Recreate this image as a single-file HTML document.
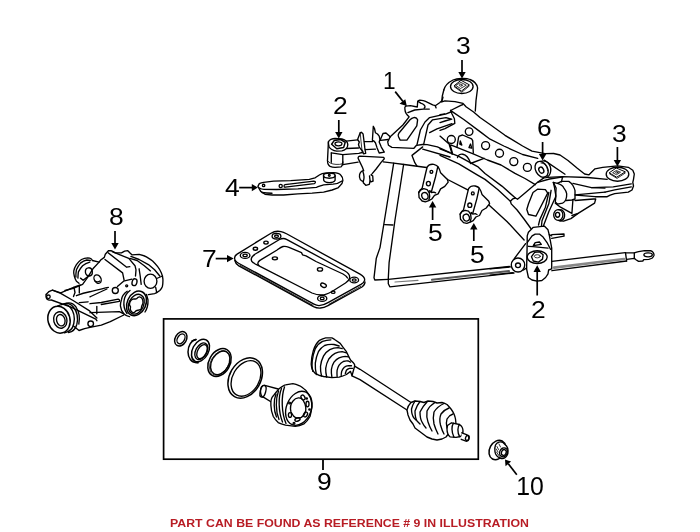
<!DOCTYPE html>
<html><head><meta charset="utf-8"><style>
html,body{margin:0;padding:0;background:#fff;width:700px;height:532px;overflow:hidden}
svg{display:block;will-change:transform}
.n{font-family:"Liberation Sans",sans-serif;font-size:24px;fill:#000}
.r{font-family:"Liberation Sans",sans-serif;font-weight:bold;font-size:11px;fill:#b81c24}
.k{fill:none;stroke:#000;stroke-width:1.35;stroke-linejoin:round;stroke-linecap:round}
.k .t{stroke-width:0.8}
.w{fill:#fff}
</style></head><body>
<svg width="700" height="532" viewBox="0 0 700 532">
<!-- ===== link 4 ===== -->
<g class="k">
<path d="M257.9,186.4 L259.3,183.6 C261,182.8 262,182.6 263.6,182.4 L273.6,181.1 L290.7,180.7 L309.3,179.3 L315,177.9 C317,176.8 318,175.8 319.3,175 C321,174 323,173.2 325,173.1 L333.6,172.6 C337,172.8 339.5,173.6 340.7,175 C342.5,176.8 343,178.5 342.9,180.5 C342.6,183 341.5,184.6 340,185.8 L337.9,187.9 L332.1,190 L323.6,192.1 L312.1,193.1 L297.9,193.9 L283.6,195 L272.1,195 L265,194.3 L260.7,191.4 Z"/>
<path d="M259.5,188 C261,189 262,189.3 264,189.3 L276.4,189.5 L297.9,188.8 L316.4,187.3 C319,186.6 321,185.6 323.6,184.8 L333,184.2 C337,183.8 340,182.5 342,181"/>
<path d="M262,192.5 C265,193 268,193.2 272,193.2"/>
<path d="M285,184.6 L313.8,181.1 C315,181.1 315.5,181.8 315.3,182.5 C315,183.2 314.8,183.5 314.3,183.6 L285.2,187.2 C284.5,187.2 284,186.8 284,186 C284,185.2 284.4,184.7 285,184.6 Z"/>
<circle cx="263.6" cy="185.4" r="1.2"/>
<circle cx="280.7" cy="186" r="1.6"/>
<ellipse cx="329.3" cy="175.6" rx="5.8" ry="2.6"/>
<path d="M323.5,175.6 L323.7,180.2 C324.4,181.9 327,182.6 329.3,182.6 C332,182.6 334.4,181.8 335.1,180.2 L335.1,175.6"/>
<circle cx="329.3" cy="175.3" r="0.9"/>
</g>
<!-- ===== plate 7 ===== -->
<g class="k">
<path d="M234.6,258.5 C234.4,256.5 235.5,255 237.5,253.8 L271,233.2 C274,231.3 277,230.8 281,231.6 C283,232 285,233 287,234 L360,274.2 C363.5,276.3 365,278.5 364.6,280.3 C364.2,282 363,283.2 361,284.4 L328,302.6 C325,304.4 322,305.5 319,305.6 C317,305.6 315.5,305 314,304.2 L239,263.5 C236.5,262.2 234.8,260.5 234.6,258.5 Z"/>
<path d="M234.8,260.5 C235.3,262.8 236.8,264.6 238.8,265.8 L313.5,306.6 C316,307.8 318.5,308.2 320.5,308 C323.5,307.8 325.5,306.9 328,305.6 L362,287 C364,285.6 365,284 365,282"/>
<path class="t" d="M240,265.3 L313,305.3 M329,304.2 L361,286.2"/>
<path d="M253.1,262.6 C251,261 250.8,258.6 252.4,256.5 C253.5,255 256,253.6 258,252.4 L279.5,239.5 C282,238.3 284.3,238.2 286.5,239.3 L345,271 C348.5,273 350,275.5 349.6,278 C349.2,280 347.5,281.8 345.5,283 L332,291.5 C328,293.8 325,295 321.5,295 C318.5,295 315,294.3 312,293 L257.1,264.9 C255.5,264.2 254.2,263.5 253.1,262.6"/>
<path d="M258.9,265.4 C257.8,264.4 257.7,263 258.3,262 C259,261 260,260.2 261.1,259.7 L277.1,250 C279,248.6 281,247 283,246.5 C285,246 287,246.5 289,247.3 L301.5,252.6 L302.5,254.8 L306,255.8 L316,261.5 L343,274 C345.5,275.4 346.8,276.8 347.5,278"/>
<ellipse cx="245.1" cy="255.4" rx="4.8" ry="3"/><ellipse cx="245.1" cy="255.4" rx="2.1" ry="1.3"/>
<ellipse cx="276.5" cy="236.2" rx="4.4" ry="2.8"/><ellipse cx="276.5" cy="236.2" rx="1.9" ry="1.2"/>
<ellipse cx="354.2" cy="280" rx="4.4" ry="2.9"/><ellipse cx="354.2" cy="280" rx="1.9" ry="1.2"/>
<ellipse cx="322.2" cy="298.4" rx="4.6" ry="2.9"/><ellipse cx="322.2" cy="298.4" rx="1.9" ry="1.2"/>
<ellipse cx="255.4" cy="248.7" rx="2.2" ry="1.5"/>
<ellipse cx="266" cy="242.6" rx="2.2" ry="1.5"/>
<ellipse cx="274.9" cy="258.3" rx="2.6" ry="1.5"/>
<ellipse cx="320" cy="269.4" rx="2.6" ry="1.7"/>
<ellipse cx="323.5" cy="285.3" rx="3" ry="1.9" transform="rotate(25 323.5 285.3)"/>
<ellipse cx="333.2" cy="292.2" rx="1.8" ry="1.2"/>
</g>
<!-- ===== differential 8 ===== -->
<g class="k">
<!-- top / rear cover silhouette -->
<path d="M92.4,260.5 L99.1,262.1 L100.7,260 L104.3,257.4 L105.3,254.3 L108.4,250.7 L111,250.7 L112.2,251.2 L115.3,252.8 L121.5,252.8 L124.6,251.2 L127.8,250.7 L130.3,253.3 L131.9,254.8 L139.1,254.3 C142,255 144.5,255.8 146.4,256.9 C149,258.5 151,259.8 152.6,261 C154.5,262.8 156.2,264.8 157.7,266.7 C159.3,268.8 160.5,270.8 161.4,272.9 C162.3,275 162.8,277 162.9,279.1 C163,281.5 162.9,284 162.4,286.4 C161.8,288 161,289.3 159.8,290.5 C158,292 156.5,293 154.6,293.6 L148.4,294.6"/>
<!-- upper-left output flange -->
<path d="M92.4,260.5 L91.4,259 C90,258 89,257.9 87.8,257.9 C85.5,258 83.5,258.5 81.5,259.5 C79.5,260.8 77.8,262.5 76.4,264.6 C75,266.8 74.2,268.8 73.8,270.9 C73.5,272.8 73.8,274.5 74.3,276 C74.8,278 75.5,279.8 76.4,281.2 L79,283.3"/>
<path d="M75.9,277 C75.8,274.5 76,272 76.4,269.8 C77.5,267.3 78.8,265 80.5,263.1 C82.5,261.5 84.5,260.5 86.7,260 L90.3,260.5"/>
<path d="M77.9,278.1 C78,276 78.1,274 78.4,271.9 C79.5,269.5 81,267.5 82.6,265.7 C84.8,263.8 87,262.8 89.8,262.1"/>
<path d="M85.4,272.2 C85.2,269.8 86.6,268 88.5,267.8 C90.5,267.7 92,269.5 92.3,271.6 C92.5,273.8 91.3,275.8 89.3,276 C87.3,276.2 85.6,274.5 85.4,272.2 Z"/>
<path d="M80.5,278.1 L83.1,280.2 L89.8,275"/>
<path d="M99.1,262.1 L92.9,268.8 L87.8,277.1 L82.6,284.3 L73.3,288.4 L65,290.5"/>
<!-- top rib -->
<path d="M108.1,252.8 L126.7,267.2 L129.8,266.7"/>
<path d="M105,259.5 L122.6,272.9 L124.1,280.2"/>
<path d="M112.2,251.7 L128.8,258.4 L135,265.7 L136,269.8 L135.5,276"/>
<!-- rear cover inner -->
<path d="M129.8,258.4 L137.1,260.5 L144.3,265.7 L150.5,270.9"/>
<path d="M130.9,256.4 L139.1,259.5 L148.4,264.6 L154.6,269.8 L159.8,276"/>
<path d="M139.1,268.8 L140.2,276 L141.2,284.3"/>
<path d="M156.7,278.5 L162.5,276"/>
<ellipse cx="150.5" cy="281.2" rx="6.4" ry="7.1"/>
<path d="M155.7,287.4 L156.7,292.6"/>
<ellipse cx="134.5" cy="282.2" rx="2.4" ry="3.5" transform="rotate(15 134.5 282.2)"/>
<circle cx="126.7" cy="285.8" r="1"/>
<circle cx="115.3" cy="290.5" r="3"/>
<path d="M117.4,286.4 L123.6,281.2 L131.9,279.1"/>
<!-- body front -->
<ellipse cx="97.6" cy="279.1" rx="3.3" ry="4.5" transform="rotate(-30 97.6 279.1)"/>
<path d="M95,281 C96.5,282 98.5,282 100,281"/>
<path d="M76.4,295.7 C82,293.5 86,292.5 90.9,291.5 C97,290 103,288.5 108.4,287.4"/>
<path d="M90,296.9 C96,294 101,291.5 106.9,289"/>
<path d="M90,303.7 L101.3,302.5 L118.2,299.2 C119.5,299.5 119.8,300.5 119.3,301.3 L101.3,304.5"/>
<path d="M96.8,306.5 L96.8,313.8"/>
<path d="M90,312.7 L119.3,311.6 L123.8,313.8"/>
<!-- left arm & strap -->
<path d="M46.2,294.3 C45.5,296.5 46.3,299.2 48.3,299.8 C49.5,300.2 50.5,300.1 51.4,300 L71,307.2 L95.8,319.1 L96.9,320.7"/>
<path d="M46.2,294.3 C47.5,292.5 50,290.8 52.4,290.2 L60.7,292.8 L74.1,287.1 L80.3,285"/>
<path d="M52.4,290.2 L60.7,293.3 L73.1,300.5 L89.6,310.9 L96.9,318.1"/>
<circle cx="48.4" cy="296.8" r="1.8"/>
<path d="M74,287.5 L75,292.5 L73.5,296.5 M79.3,286 L79.3,293"/>
<path d="M79.3,302.6 L88,301.8"/>
<!-- input flange -->
<ellipse cx="59" cy="319.7" rx="11" ry="13.6" transform="rotate(-15 59 319.7)" style="stroke-width:1.5"/>
<ellipse cx="60.3" cy="320" rx="6.6" ry="8.3" transform="rotate(-15 60.3 320)"/>
<ellipse cx="60.8" cy="320.2" rx="4.2" ry="5.8" transform="rotate(-15 60.8 320.2)"/>
<path d="M57.6,306.2 C62,303.5 67,303.8 70,307 C73.5,311 75,317.5 73.8,323.5 C72.8,328.5 69,332 64.5,332.8"/>
<path d="M61.7,304.6 C66,302.6 70.5,303.5 73.5,307.2 C77,311.5 78.2,318.5 76.8,324.5 C75.6,329 72.5,331.8 68.5,332.5"/>
<path d="M64.5,303.8 C69,302 73.5,303.5 76,307 C79,311.5 80,318 78.8,324"/>
<path d="M73.5,326 L79,330.5 L84.6,328.6 L90,327.4 L101.3,325.1 L110.3,321.7 L123.8,315"/>
<circle cx="90.7" cy="323.8" r="2.8"/>
<!-- right output flange -->
<path d="M127.2,291.3 C124,293.5 122,296.5 121.6,299.2 C120.8,301.5 120.4,303.5 120.4,305.9 C120.8,309 122,311.8 123.8,313.8 C125.5,315.5 127.3,316.3 129.5,316.6"/>
<path d="M130,290.5 C126.5,293 124.5,297 124,301 C123.5,305 124.5,310 127,313.5"/>
<ellipse cx="136.5" cy="303.4" rx="9.3" ry="12.8" transform="rotate(25 136.5 303.4)" style="stroke-width:1.5"/>
<ellipse cx="136.3" cy="304.2" rx="7.4" ry="10.4" transform="rotate(25 136.3 304.2)"/>
<path d="M129.5,304.8 C129.5,302 131,300 132.8,299.2 C134.5,298.5 135.5,299.5 136.5,298.8 C137.5,297.5 138.5,296.8 139.6,296.9 C141.5,297.3 143,299.5 143,302.5 C143,304.5 141.5,305.5 141.5,307 C141.5,308.2 141.5,309 140.7,309.3 C139,310.5 137.5,310 136,310.8 C135,311.8 134.5,312.7 134,312.7 C131.5,312.7 129.5,309.5 130.5,307.5 C131,306.5 129.5,305.8 129.5,304.8 Z"/>
<path d="M146.5,294.5 L148,300 C148.2,305 147,309 145,312"/>
</g>
<!-- ===== part 9 components ===== -->
<g class="k">
<!-- ring 1 -->
<ellipse cx="180.8" cy="338.8" rx="5.6" ry="7.7" transform="rotate(30 180.8 338.8)" style="stroke-width:1.5"/>
<ellipse cx="181" cy="338.8" rx="3.5" ry="5.3" transform="rotate(30 181 338.8)"/>
<!-- ring 2 seal -->
<path d="M196,339.5 C191,340.5 188,346 188,352 C188,358 191.5,362.5 196,362.5 L198,362.5" style="stroke-width:1.5"/>
<ellipse cx="200.5" cy="350.5" rx="8" ry="12" transform="rotate(28 200.5 350.5)" style="stroke-width:1.5"/>
<ellipse cx="201.3" cy="351.3" rx="5.6" ry="9" transform="rotate(28 201.3 351.3)"/>
<ellipse cx="202" cy="351.6" rx="4.4" ry="7.6" transform="rotate(28 202 351.6)"/>
<path d="M192,341 L196,339.5 M194.5,362.3 L198,362.8"/>
<!-- ring 3 -->
<ellipse cx="219.5" cy="362.5" rx="10.5" ry="14.8" transform="rotate(30 219.5 362.5)" style="stroke-width:1.5"/>
<ellipse cx="220.3" cy="362.8" rx="8.6" ry="12.6" transform="rotate(30 220.3 362.8)"/>
<ellipse cx="219.6" cy="363" rx="8.8" ry="13.3" transform="rotate(30 219.6 363)" style="stroke-width:0.7"/>
<!-- ring 4 -->
<ellipse cx="245.2" cy="378" rx="15.6" ry="21.5" transform="rotate(30 245.2 378)" style="stroke-width:1.5"/>
<ellipse cx="246" cy="378.4" rx="13.3" ry="19" transform="rotate(30 246 378.4)"/>
<!-- CV joint -->
<path class="w" d="M278.2,389 L264.8,385.4 C262,385 260.5,387.5 260.5,390.9 C260.5,394.5 262,397.3 264.2,397.6 L272.1,402.5"/>
<ellipse cx="263" cy="391.3" rx="2.7" ry="6" transform="rotate(15 263 391.3)"/>
<path class="w" d="M270.9,405.5 C270.5,400 272,397 273.3,395.8 C276,392 278,390 279.4,388.4 C282,386.5 284,385 285.5,384.8 L292.9,383.6 C296,384 298,385 300.2,386 C303,388 305,389.5 306.3,390.9 C308,393.5 309.5,396 310.6,398.2 C311.5,401 312,404 311.8,406.8 C311.5,410 311,413 310,416.5 C308,420 306,422.5 303.9,423.9 C301,425.5 298,426.3 295.3,426.3 L285.5,425.1 C282,424.2 280,423.5 278.2,422.6 C276,420.5 274.5,418.5 273.3,416.5 C271.8,413 271,409 270.9,405.5 Z"/>
<path d="M276,394 C273.5,400 273.5,410 276.5,417 M278.5,391 C275.5,399 275.5,411 279,419.5 M281.5,388.5 C278,397 278.5,412 282.5,422 M284.5,387 C281,397 281.5,413 286,423.5"/>
<ellipse cx="298.8" cy="408.3" rx="12.4" ry="17.6" transform="rotate(22 298.8 408.3)"/>
<path d="M293,401 C296,397 301,397 303,400 L305,404 C306,407 306,412 304,415 C301,419 296,419 293.5,416 L291,412 C290,408 290.5,404 293,401 Z"/>
<ellipse cx="303" cy="397.5" rx="1.8" ry="2.6" transform="rotate(-30 303 397.5)"/>
<ellipse cx="307.5" cy="404" rx="1.5" ry="2.8"/>
<ellipse cx="305.5" cy="414.5" rx="1.8" ry="2.6" transform="rotate(30 305.5 414.5)"/>
<ellipse cx="297.5" cy="419.5" rx="2.7" ry="1.6" transform="rotate(-20 297.5 419.5)"/>
<ellipse cx="290" cy="415" rx="1.6" ry="2.4"/>
<circle cx="289.6" cy="403" r="0.9"/>
<circle cx="294" cy="423.3" r="0.9"/>
<circle cx="306.7" cy="398.5" r="0.7"/>
<circle cx="309.5" cy="409.5" r="0.7"/>
<!-- inner boot -->
<path class="w" d="M354.6,366.2 C355,364.5 354.5,363.8 353.6,363.1 L350.5,360 L348.4,355.9 L346.4,351.7 L343.3,347.6 L340.2,343.4 L335,339.8 C333.5,338.5 332.5,338 331.9,337.8 L325.7,337.8 C323.5,338.3 321.5,339.2 319.5,340.3 C316.5,343 314.5,346.5 313.3,350.7 C312,355 311.3,359.5 311.2,364.1 C311.4,366 311.7,367.8 312.2,369.3 C313,371 314,372.3 315.3,373.4 C317.8,375 320.5,376 323.6,376.5 L331.9,377.6 L339.1,377.1 C341.8,376.5 344.2,375.6 346.4,374.5 L350.5,371.4 L352,375.8 L354.6,366.2 Z"/>
<path d="M312.8,371.4 C311.8,368 311.8,364.5 312.2,361 C312.8,356.5 313.8,352.5 315.3,348.6 C317.3,345 319.6,342.8 322.6,341.4 C325.5,340.2 328.3,339.8 330.9,339.8"/>
<path d="M316.4,374.5 C315.5,370.8 315.1,367 315.3,363.1 C315.8,359 316.8,355.2 318.4,351.7 C320.2,348.8 322.2,346.8 324.6,345.5 C327.5,344.4 330.7,344.2 334,344.5 L339.1,346"/>
<path d="M321.5,376 C320.7,372.8 320.4,369.5 320.5,366.2 C320.9,362.6 322,359 323.6,355.9 C325.3,353 327.4,351 329.8,349.6 C332.5,348.3 335.3,347.7 338.1,347.6 L342.2,348.6"/>
<path d="M326.7,377.1 C326,374.2 325.6,371.2 325.7,368.3 C326.1,365 327.2,361.9 328.8,359 C330.5,356.5 332.6,354.6 335,353.3 C337.3,352.3 339.7,351.8 342.2,351.7 L346.4,352.8"/>
<path d="M331.9,377.1 C331.4,374.5 331.2,371.9 331.4,369.3 C331.8,366.7 332.7,364.2 334,362.1 C335.5,360.2 337.2,358.8 339.1,357.9 C341.1,357 343.1,356.5 345.3,356.4 L348.4,356.9"/>
<path d="M337.1,376.5 C336.9,374.4 336.9,372.3 337.1,370.3 C337.5,368.4 338.2,366.7 339.1,365.2 C340.4,363.5 341.8,362.3 343.3,361.5 C345,360.9 346.7,360.8 348.4,361 L350.5,362.1"/>
<path d="M341.2,375.5 C341.2,374.1 341.4,372.7 341.7,371.4 C342.3,369.7 343.2,368.3 344.3,367.2 C345.6,366.2 347,365.8 348.4,365.7 L351.5,365.7"/>
<path d="M345.3,373.4 L346.4,370.3 C347.3,369.2 348.3,368.6 349.5,368.3 L352.6,368.3"/>
<!-- shaft -->
<path d="M354.6,366.2 L360,369.3 L411,402.5 M352,375.8 L360,379.6 L407,410"/>
<!-- outer boot -->
<path class="w" d="M411,402.5 L415,401 L420,401.5 L424,402.5 L428,401 L433,401.5 L437,403 L442,402.5 C444,403 445.5,403.6 447,404.5 C448.5,406 449.8,407.5 451,409 C452.2,410.6 453.2,412.3 454,414 C454.7,415.7 455.2,417.3 455.5,419 L456,424 L446,437 L442,439 L437,440 L432,439 L427,437 L423,434 L419,431 L415,428 L413,424 L410,420 L408,415 L407,410 C407.5,407 409,404.5 411,402.5 Z"/>
<path d="M415,401 C413,404 412,407 411.5,409 C411.5,412.5 412,415.5 414,418 L416,420"/>
<path d="M420,401.5 C417.5,404.5 416,408 415,411 C415,415 415.5,418.5 417,421 L420,424"/>
<path d="M427,402 C424,405 422,408 420,412 C420,416 420.5,419.5 422,422 C423,424 424.5,426.5 426,428"/>
<path d="M435,402.5 C431.5,404.5 429,407 427,411 C426.5,415 426.6,418.5 428,422 C429,425 430.5,428.5 432,431"/>
<path d="M444,403.5 C439.5,405.5 436.5,408 434,412 C433,416 433.2,420 434,424 C435,427.5 436.5,431 438,434"/>
<path d="M449,408 C445,409.5 442.5,412 441,414 C439.5,417.5 439.5,421 440.5,425 C441.5,428.5 442.5,431.5 444,434"/>
<path d="M453,414 C450,415 448,417 447,419 C446,422 446.2,425 447,428"/>
<!-- outer stem -->
<path class="w" d="M447.5,425.5 L451.5,422.8 L459.5,424.5 C461.5,425.8 463,428.5 463,431 C463,433.5 462,435.5 460.5,436.5 L456,437.3 L450,436.8 C448,435 447,432 447,429 Z"/>
<path d="M453.5,423.2 C451.5,426 451.3,432 454,437.2"/>
<path d="M459.5,424.5 C457.5,426.5 457.2,432.5 459.6,436.6"/>
<path class="w" d="M461.8,432.8 L466.5,434.6 C468.3,435.5 469.3,437.2 469,439 C468.6,440.6 467.5,441.4 466,441.2 L461.2,439.3"/>
<ellipse cx="467.3" cy="437.9" rx="1.7" ry="2.6" transform="rotate(20 467.3 437.9)"/>
</g>
<!-- ===== nut 10 ===== -->
<g class="k">
<ellipse cx="497.3" cy="450" rx="7.7" ry="10.2" transform="rotate(28 497.3 450)" style="stroke-width:1.5"/>
<path class="w" d="M495.5,445 C497,441.8 500.5,441.3 503,442.5 L506.5,446 C508.5,448.5 508.5,453 507,455.5 C505.5,458 502.5,459 500,458 C497.5,457 495.5,455 495,452 C494.5,449.5 494.7,447 495.5,445 Z"/>
<ellipse cx="503.5" cy="452.3" rx="3.8" ry="4.6" transform="rotate(25 503.5 452.3)"/>
<ellipse cx="503.8" cy="452.5" rx="2.3" ry="3" transform="rotate(25 503.8 452.5)"/>
<path class="t" d="M497,446.5 L498.5,449.5 M496.3,449 L498,452 M496.5,452 L498.5,455 M498.5,455 L500.5,457.2 M499,444 L500.5,447"/>
</g>
<!-- ===== SUBFRAME ===== -->
<g class="k">
<!-- plate (underbody panel) strip -->
<path d="M383.2,161.8 L393.7,163.2 L404.2,164.5 L426.5,167.5"/>
<path d="M393.7,163.2 L384.5,220 L380,247.6 L376.3,258.2 L374,277.8 L374.8,280 L388.3,279.3"/>
<path d="M403.6,164.5 L395,220 L389.1,262.7 L388.3,278.5 L388.3,283.8 L389.8,286.8 L514,273"/>
<path d="M384.6,224.6 L392.9,225"/>
<path d="M388.3,279.3 L509.4,266.5"/>
<path d="M432,279.8 L509,271.1" style="stroke-width:2;stroke:#555"/>
<path d="M395,282 L418,280.4" style="stroke-width:1.2;stroke:#777"/>

<!-- tie rod -->
<path d="M551.9,261.3 L625.3,252.6 M551.9,270.7 L626.6,261"/>
<path d="M554,267.6 L624,259" style="stroke-width:2.6;stroke:#888"/>
<path d="M625.5,252.7 L626.6,261 M634.3,252.9 L634.3,258.4"/>
<path d="M625.5,252.8 L634.3,252.9 C636,252.3 637.3,251.9 638.6,251.6 L644.6,250.7 L650.6,250.7 C651.8,251.2 652.6,251.8 653.1,252.4 C653.8,253.4 654.1,254.4 654,255.4 C653.6,256.6 653,257.4 652.3,258 C651.2,258.7 650,259.1 648.8,259.3 L643.7,259.7 L642.8,261 L638.6,261.4 L636,259.7 L634.3,258.4 L626.6,259.3"/>
<ellipse cx="648.1" cy="254.8" rx="4.2" ry="2"/>
<path d="M490,268.8 L510.6,266.9 M490,275.2 L513,272.6"/>

<!-- left bushing (2 top) and front arm -->
<path d="M328.4,141.9 C329,140.6 330,139.8 330.9,139.4 C332.3,138.8 333.8,138.5 335.1,138.5 L341.9,139 C343.8,139.5 345.2,140.2 346.1,141.1 C347.2,142.2 347.8,143.3 347.8,144.4 C347.8,146.2 347.2,147.8 346.1,148.7 C344.8,149.9 343.5,150.5 341.9,150.8 L336.8,151.2 C334.8,151 333.2,150.4 331.8,149.5 C330.5,148.8 329.7,148 329.2,147 C328.6,145.4 328.3,143.6 328.4,141.9 Z"/>
<path style="stroke-width:1.5" d="M331.6,144.2 L334.3,140.4 L340.8,139.5 L345.2,142.4 L343.6,147.6 L336.8,148.7 Z"/>
<path d="M335.5,142.6 C336.8,141.9 339.8,141.8 341.3,142.5 C342.2,143 342.1,144.5 341.2,145.1 C339.8,145.9 336.9,145.9 335.7,145.1 C334.8,144.5 334.8,143.1 335.5,142.6 Z"/>
<path d="M328.4,142 L328,150.4 L327.5,160.5 C327.6,162.2 327.7,163.2 328,163.9 C328.7,165.2 329.3,165.9 330.1,166.4 C331.5,167 333.2,167.3 335.1,167.3 L341.1,166.8 C341.8,166.2 342.2,165.5 342.3,164.7 L342.8,162"/>
<path class="t" d="M327.6,160.8 C329,162.7 331.5,164.1 336,164.4 C338.5,164.6 341,164.3 342.5,163.8"/>
<path d="M331.3,152.9 L331.3,162.2 M342.8,154.6 L342.8,164.7"/>
<path d="M331.3,152.9 L342.8,154.6 L358.8,153.3 L362.2,152.5"/>
<path d="M342.8,164.7 L358.1,162.1"/>
<path d="M346.1,141.1 L357.6,139.9 M364.4,141.6 L372.8,141.6 M380.5,140.3 L388.1,139.5"/>
<path d="M346.5,148.5 L358.5,148 M365.2,149.6 L375.4,149.2"/>
<!-- fins -->
<path d="M357.6,139.5 L360.2,132.7 L361.4,132.3 L363.1,134 L364,141.2 L364.8,147.9 L365.7,153.4 L363.5,153.8 L362.7,151.3 L360.6,148.8 L359.3,147.1 L358.5,144.5 L359.3,142 Z"/>
<path class="t" d="M360.2,132.7 L361,141.2 L362.3,153"/>
<path d="M372.4,140.3 L373.3,126.3 L374.5,128.5 L375.4,132.7 L377.5,134 L379.2,136.1 L380,139.5 L379.2,142 L381.3,147.1 L384.3,152.1 L379.2,153 L377.1,147.9 L375.4,142.8 L374.1,141.2 Z"/>
<path d="M380.1,140.2 L383,133.5 L386,133 L390.2,136.8"/>
<!-- hanging bracket -->
<path d="M359.9,156.1 L383.8,157.4 L384.3,158.7 L381.3,162.1 L376.1,169 L371.8,174.1 L371,175 L372.7,175.8 L373.1,181 L371,181.8 L370.1,181 L369.3,184.4 L365.8,185.3 L363.3,182.7 L363.3,181.5 C362,181.2 361,180.6 360.3,179.6 C359.5,178.5 359.2,176.5 359.6,174.5 C360.2,172.5 362,170.8 363.7,170.7 L362.4,167.3 L359.9,162.1 L358.1,158.3 C358,157.6 358.6,156.2 359.9,156.1 Z"/>
<path d="M362.9,171.5 C364,174.5 364.2,179 363.3,181.5"/>
<path d="M370.1,181 L369.5,176"/>

<!-- junction / part 1 ear -->
<path d="M405.7,106.1 L410.4,105.7 L417.3,107 L417.7,101.4 C418.2,100.6 419,100.2 419.8,100.1 L423.3,100.6 C425,101 426.4,101.6 427.6,102.3 L432.7,104.9 L435.3,105.7 L439.6,102.7 L442.1,100.6 L443,97.1"/>
<path d="M417.7,101.4 C419,102 420,102.6 420.7,103.1 C422.3,103.7 423.4,104.2 424.1,104.9 C424.8,105.6 425.1,106.3 425,107 L424.1,108.3 M435.3,105.7 L436.1,107.9"/>
<path d="M405.7,106.1 C404.8,107 404.6,108 404.9,109.1 C405,110.8 405.4,112.2 406.1,113.4 C407,114.8 408,115.9 409.1,116.8 L402.9,125 L390.2,136.8"/>
<path d="M407.9,112.6 L414.7,110 L423.3,109.1 L429.3,109.1"/>
<path d="M416.8,125.8 L417.6,119.8 C417,118.2 415.5,117.3 413.8,117.6 C412,118 410.8,119 410,119.8 L398.8,133.3 C398,134.5 398,135.8 398.5,136.8 L400.2,140.1 L406.9,140.1 Z"/>
<path d="M390.2,136.8 L387.7,141.9 L388.5,145.3 L391.9,147.4 L413.9,148.3 L416.5,145.3 L422.4,144.5 L427.2,144.7 L437.4,146.9 L450,152.6"/>
<path d="M417,144.7 L420.4,130 L425,122 L429.6,117.6 L446.2,113.8 L452,111.5"/>
<path d="M423.6,144.6 L428,125 L432.6,119.8 L446,117.6 L450.7,119"/>
<path d="M429.6,132.6 L437,128.8 L452,123.6"/>
<path d="M412,155.4 L422.7,146.9 M412,155.4 L414.8,162.7 L417,166.1"/>
<path d="M422.7,149.2 L450,157"/>
<path d="M440,114.7 L445,113.9 M440,122.6 L445,121 L451.8,119.2"/>

<!-- top mount 3 -->
<path d="M443.8,90 C445,85 449,82 453,80 C457,78.3 466,77.8 470,79.5 C474,81 477,84 477.6,88 L476,100.6 L475.3,111"/>
<path d="M443.8,90 L442.3,96 L441.7,101.8"/>
<ellipse cx="461.8" cy="86.5" rx="11.3" ry="7"/>
<path style="stroke-width:1" d="M454.3,85.6 L461,80.3 L469.3,84.8 L461.8,90.8 Z"/>
<path class="t" d="M454.3,86.8 L461.8,92.2 L469.3,86"/>
<path class="t" d="M456,85.2 L460.8,82.4 L466.3,85.2 L460.8,88.3 Z"/>
<ellipse class="t" cx="460.8" cy="85.2" rx="1.4" ry="1"/>

<!-- beam A (top long beam with holes) -->
<path d="M441.7,101.8 L445,100.8 L455,101.6 L463,103.4 L466,106.8 L473.6,112 L480,117.5 L490,124.5 L505,135.3 L522.6,146 L532,151.2 L545,153.6 L553.7,153.5 L560,155 L568,160.5 L577,168 L584.6,174 L589,174.8 L592,171.8 L595,168.8 L602.7,167.3 L617.7,165.8 L628.3,167.3 L632.8,170.3 L634.3,174 L633.5,179.3 L632.8,182.4 L633.5,186 L632,190 L628.3,192.1 L614.7,193.6 L610.2,195.2 L607.2,196.7 L595,196.7 L575.6,195.2"/>
<path d="M450.6,110.5 L460.8,105.3 L463,104.5"/>
<path d="M450.6,110.5 L451.8,113.5 L454.4,118.8 L454.8,123.3 L445,128.6 L440,130.4"/>
<path d="M450.6,110.5 L453.3,112.4 L463.8,119.5 L480,131.6 L490.1,139.2 L503.8,146 L522.6,154.5 L537.7,158.3"/>
<path d="M440,136.1 L450.2,145.1 L452.4,153 M451.3,145.1 L473.8,154.1 L487.4,160 L501,165 L515,173.4 L525,178.5 L535.3,184.7"/>
<!-- front diagonal beam -->
<path d="M440,148.8 L458.8,156.3 L477.6,166.6 L485,173.5 L501.9,186.1 L515.4,198 L517.5,199.2 L525,192.9 L537.6,182.3 L543.5,178.1"/>
<path d="M440,155.3 L458.8,163.8 L477.6,175.1 L485,179.4 L497.7,189.5 L510.4,201.3 L512.9,198.8 L515.4,198"/>
<path d="M470.5,163.5 L484,158.3"/>
<path d="M457.5,157.5 C458.5,153 466.5,151.5 470.5,163"/>
<path d="M449.4,145 L452.2,154.4"/>
<path d="M426.5,167.5 L437,172.5 L447.6,179.5 L467.3,189.7 L481.3,198 L492.5,208.2 L507.2,221.7 L524.1,240"/>
<path d="M510.4,201.3 L511.2,203.9 L517.1,210 L524,219 L530.9,228.5"/>
<!-- holes -->
<circle cx="469.1" cy="131.6" r="3.8"/>
<circle cx="451.3" cy="139.5" r="4"/>
<circle cx="485.6" cy="145.6" r="4"/>
<circle cx="499.5" cy="153.2" r="4"/>
<circle cx="513.8" cy="161.6" r="4"/>
<circle cx="527.4" cy="167.4" r="4"/>
<!-- window -->
<path d="M458.6,137.2 L459.2,136.1 L462.6,135 L471.6,138.9 L472.7,140.6 L473.3,153 M458.6,137.2 L456.9,147.4"/>
<path d="M460.3,141 L461.8,145 L459.8,144.2 Z M470.5,144 L471.8,148.2 L469,147.6 Z"/>

<!-- bushing 6 -->
<path d="M544.1,160.1 L565,174.2"/>
<path class="w" d="M541.8,161.2 C546,160 549.5,163 550.6,170.2 C550.8,174 549,177 546.3,177.7 L543.5,177.6 L541.8,161.2 Z" style="stroke:none"/>
<ellipse class="w" cx="541.6" cy="169.3" rx="6" ry="8.4" transform="rotate(-28 541.6 169.3)"/>
<path d="M540.5,161.4 C543,160.6 546,160.8 548,162.8 C550,165 551,168 550.7,171 C550.4,174.3 548.8,176.6 546.3,177.7 L543.5,177.8"/>
<path class="t" d="M541,163 C544.5,163 547.3,166.2 547.6,170.8"/>
<ellipse cx="541.3" cy="170.2" rx="2.3" ry="3.2" transform="rotate(-28 541.3 170.2)"/>

<!-- right arm lines -->
<ellipse cx="617.5" cy="174.2" rx="11.3" ry="7"/>
<path style="stroke-width:1" d="M609.5,172.6 L616.2,168 L625.3,171.8 L617,177 Z"/>
<path class="t" d="M609.5,173.8 L617,178.4 L625.3,173"/>
<path class="t" d="M613,172.5 L616.3,170.5 L620.5,172.2 L616.8,174.5 Z"/>
<ellipse class="t" cx="616.8" cy="172.4" rx="1.1" ry="0.8"/>
<path d="M547.5,177.4 L562.6,176.7 L587.6,177.5 L607.2,179.3"/>
<path d="M591.5,187.6 L613.2,186.9 L631.3,183.9"/>
<path d="M605,192.2 L614.7,189.9 L631.3,186.9"/>
<path d="M561.5,181.9 L562.6,176.7"/>
<path d="M553.3,182.4 L557.4,183.4 C561,184.5 563,186 563.6,187.6 C565.5,190 566.5,192 566.7,193.8 C566.8,196.5 566.5,198.5 565.7,200 C564.8,201.8 563.8,202.6 562.6,203.1 L557.4,204.1 L555.3,202 L555.9,195.9 L554.3,186.5 Z"/>
<path d="M557.4,183.4 L561.5,181.4 L568.8,181.4 C570.5,182.5 572,184 572.9,185.5 C574,187.5 574.7,189 575,190.7 L575,199 L571.9,200 L566,200.5"/>
<path d="M555.3,203.1 L560.5,207.2 L571.9,213.4 L572.9,200"/>
<path d="M575,194.8 L605,192.2"/>
<path d="M575,200.5 L593.6,199 L595.7,199 L594.6,203.1 L578.1,213.4 L571.9,215.5"/>
<path d="M572.9,183.4 L591.5,187.6 L605,188.1"/>
<ellipse cx="558.3" cy="215" rx="4.6" ry="5.4"/>
<ellipse cx="557.6" cy="214.8" rx="2.1" ry="2.4"/>
<path d="M558.3,209.6 L562,210 C564,211.5 565,213.5 564.5,216.5 C564,219 562.5,220.5 560,220.8 L558.3,220.4"/>
<path d="M560,220.8 L563.6,221.2 L570.9,218.6 L578.1,213.4"/>

<!-- lower node / slot -->
<path d="M537.6,182.3 L549.6,179 L563,176.8"/>
<path d="M528.5,203.8 L533,192.5 L537.5,189.2 L545.4,189.7 L547.7,193.1 L535.9,216.2 L528.5,214.5 L526.8,209.5 Z"/>
<path d="M548.8,192.5 L545.4,207.2 L539.8,219.6 L538.5,225 M551.1,190.3 L548.8,203.8 L542,220.7 L541.5,225.5"/>
<path d="M553.3,182.4 L556.1,188 L555.6,197 L548.8,211.7 L543.2,226.4"/>



<!-- lower mount 2 -->
<path d="M527.2,235.9 L528.4,232.2 L533.3,227.3 L544.3,226.1 L548,229.8 L549.2,234.7 L551.7,248.1 L551.7,268.9 L548.6,270 L548,273.8 L545.6,277.5 L541.9,280.5 L537,281.1 L532,280 L528.4,277.5 L526.6,268.9 L527.2,243.2 L527.2,235.9"/>
<path d="M527.2,242.6 L532.1,235.9 L535.2,234.1 L539.4,234.1 L543.1,237.1 L547.4,243.2 L550.5,249.3"/>
<path d="M533.3,245.7 L535.2,242.6 L539.4,242 L541.3,244.4 Z"/>
<path d="M528.4,246.3 L533,246.6 L548,248.1"/>
<path d="M549.2,234.7 L551.7,235.9"/>
<ellipse cx="537.2" cy="257.1" rx="10" ry="6.4"/>
<path d="M531.5,256.7 L534.6,252.4 L539.4,251.8 L543.1,254.8 L542.5,259.1 L538.2,262.2 L533.3,261 Z"/>
<ellipse class="t" cx="537.3" cy="256.3" rx="3" ry="1.6"/>
<path d="M551.7,234.7 L564,234 L564,236.2 L551.7,238.4"/>
<ellipse cx="518" cy="265" rx="6.7" ry="7"/>
<ellipse cx="518" cy="265.3" rx="2.5" ry="2.3"/>
<path d="M514.3,258.6 L525.6,243.6 M523.5,270 L526.6,268"/>
</g>
<!-- ===== brackets 5 ===== -->
<g class="k">
<g>
<path class="w" d="M427.2,167 C428.6,164.8 431.3,164 433.8,164.4 C436,164.9 437.5,165.8 438.1,166.9 C439.5,169 440.2,171 440.6,172.8 L447.4,179.6 L448.2,182.1 L444.8,186.4 L440.6,188.9 L438.1,193.9 L434.5,195.4 L431.8,199 L428.8,200.6 L425.4,201.8 L422.1,201 L419.1,197.6 L418.7,192.5 L420.4,190 L422.1,188.3 L425.8,172.5 Z"/>
<path d="M437.8,166.6 L435.5,177 L431.4,191.7"/>
<path d="M418.7,192.5 L420.4,190 L423.7,188.7 L427.1,189.6 L429.2,192.5 L429.7,196.7 L428.8,200.1"/>
<path d="M429.2,192.5 L430.5,191.3 M429.7,190.8 L431.4,192.5 L433.9,192.1 L435.6,192.9"/>
<ellipse cx="424.9" cy="196" rx="3.1" ry="3.5" transform="rotate(-20 424.9 196)"/>
<ellipse cx="431.4" cy="171.8" rx="1.4" ry="1.5"/>
<ellipse cx="428.4" cy="183.6" rx="2" ry="2.2"/>
</g>
<g transform="translate(41.4,21.6)">
<path class="w" d="M427.2,167 C428.6,164.8 431.3,164 433.8,164.4 C436,164.9 437.5,165.8 438.1,166.9 C439.5,169 440.2,171 440.6,172.8 L447.4,179.6 L448.2,182.1 L444.8,186.4 L440.6,188.9 L438.1,193.9 L434.5,195.4 L431.8,199 L428.8,200.6 L425.4,201.8 L422.1,201 L419.1,197.6 L418.7,192.5 L420.4,190 L422.1,188.3 L425.8,172.5 Z"/>
<path d="M437.8,166.6 L435.5,177 L431.4,191.7"/>
<path d="M418.7,192.5 L420.4,190 L423.7,188.7 L427.1,189.6 L429.2,192.5 L429.7,196.7 L428.8,200.1"/>
<path d="M429.2,192.5 L430.5,191.3 M429.7,190.8 L431.4,192.5 L433.9,192.1 L435.6,192.9"/>
<ellipse cx="424.9" cy="196" rx="3.1" ry="3.5" transform="rotate(-20 424.9 196)"/>
<ellipse cx="431.4" cy="171.8" rx="1.4" ry="1.5"/>
<ellipse cx="428.4" cy="183.6" rx="2" ry="2.2"/>
</g>
</g>
<!-- box 9 -->
<rect x="163.6" y="318.9" width="314.7" height="140.3" fill="none" stroke="#000" stroke-width="1.7"/>
<line x1="323" y1="459" x2="323" y2="470" stroke="#000" stroke-width="1.8"/>
<!-- arrows -->
<g stroke="#000" stroke-width="1.7" fill="#000">
<line x1="462" y1="60" x2="462" y2="73"/><path d="M458.3,72 L465.7,72 L462,78.5 Z" stroke="none"/>
<line x1="617.4" y1="147" x2="617.4" y2="161"/><path d="M613.7,160 L621.1,160 L617.4,166.5 Z" stroke="none"/>
<line x1="338.8" y1="120" x2="338.8" y2="133"/><path d="M335.1,132 L342.5,132 L338.8,138.5 Z" stroke="none"/>
<line x1="542.6" y1="142" x2="542.6" y2="155"/><path d="M538.9,154 L546.3,154 L542.6,160.5 Z" stroke="none"/>
<line x1="115" y1="231" x2="115" y2="244"/><path d="M111.3,243 L118.7,243 L115,249.5 Z" stroke="none"/>
<line x1="395.2" y1="91.6" x2="403" y2="101.5"/><path d="M399.5,103.8 L405.3,99.2 L406.8,106 Z" stroke="none"/>
<line x1="239.2" y1="187.6" x2="252.5" y2="187.6"/><path d="M251.8,184 L251.8,191.2 L257.8,187.6 Z" stroke="none"/>
<line x1="215.7" y1="258.6" x2="228" y2="258.6"/><path d="M227,254.9 L227,262.3 L233.7,258.6 Z" stroke="none"/>
<line x1="432.6" y1="220" x2="432.6" y2="206.5"/><path d="M428.9,207.5 L436.3,207.5 L432.6,201 Z" stroke="none"/>
<line x1="473.8" y1="241" x2="473.8" y2="228.5"/><path d="M470.1,229.5 L477.5,229.5 L473.8,223 Z" stroke="none"/>
<line x1="537.2" y1="295.5" x2="537.2" y2="271"/><path d="M533.5,272 L540.9,272 L537.2,265.3 Z" stroke="none"/>
<line x1="516.8" y1="474.7" x2="508.3" y2="463.8"/><path d="M505.5,466.2 L511.1,461.5 L505,459.6 Z" stroke="none"/>
</g>
<!-- labels -->
<g class="n">
<text x="383" y="89" textLength="12.6" lengthAdjust="spacingAndGlyphs">1</text>
<text x="333" y="114" textLength="14.7" lengthAdjust="spacingAndGlyphs">2</text>
<text x="456" y="54" textLength="14.7" lengthAdjust="spacingAndGlyphs">3</text>
<text x="612" y="141.8" textLength="14.7" lengthAdjust="spacingAndGlyphs">3</text>
<text x="225" y="196" textLength="14.7" lengthAdjust="spacingAndGlyphs">4</text>
<text x="428" y="241" textLength="14.7" lengthAdjust="spacingAndGlyphs">5</text>
<text x="470" y="263" textLength="14.7" lengthAdjust="spacingAndGlyphs">5</text>
<text x="537" y="135.5" textLength="14.7" lengthAdjust="spacingAndGlyphs">6</text>
<text x="202" y="267" textLength="14.7" lengthAdjust="spacingAndGlyphs">7</text>
<text x="109" y="225" textLength="14.7" lengthAdjust="spacingAndGlyphs">8</text>
<text x="531" y="318" textLength="14.7" lengthAdjust="spacingAndGlyphs">2</text>
<text x="317" y="490" textLength="14.7" lengthAdjust="spacingAndGlyphs">9</text>
<text x="516.3" y="494.6" textLength="27.6" lengthAdjust="spacingAndGlyphs" style="font-size:25px">10</text>
</g>
<text class="r" x="170" y="526.5" textLength="359" lengthAdjust="spacingAndGlyphs">PART CAN BE FOUND AS REFERENCE # 9 IN ILLUSTRATION</text>
</svg>
</body></html>
